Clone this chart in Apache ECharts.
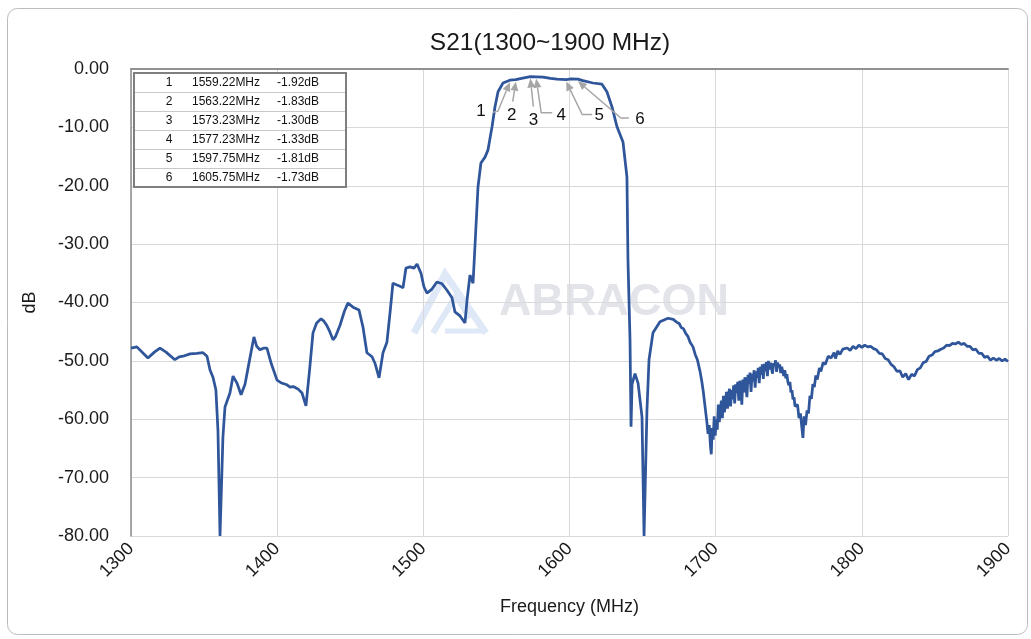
<!DOCTYPE html>
<html>
<head>
<meta charset="utf-8">
<script src="https://cdn.jsdelivr.net/npm/echarts@6/dist/echarts.min.js"></script>
<style>
html,body{margin:0;padding:0;background:#fff;}
#c{width:1031px;height:639px;}
</style>
</head>
<body>
<div id="c"></div>
<script>
// ---------------- DATA ----------------
const xTickValues = [1300, 1400, 1500, 1600, 1700, 1800, 1900];
const yTickValues = [0, -10, -20, -30, -40, -50, -60, -70, -80];

// S21 trace, [frequency MHz, dB]
const lowerStopband = [
  [1300,-47.8],[1304,-47.6],[1308,-48.6],[1311.6,-49.5],[1316,-48.5],[1319.8,-47.8],[1324,-48.5],
  [1330,-49.8],[1333,-49.3],[1335.6,-49.2],[1340.4,-48.8],[1345,-48.7],[1349.3,-48.6],[1352,-49.2],
  [1354.1,-51.6],[1356.1,-52.8],[1358.1,-55],[1359.5,-62],[1360.9,-80],[1362.9,-63],[1364.3,-57.9],
  [1367.7,-55.5],[1369.8,-52.6],[1372.5,-53.8],[1375.3,-55.8],[1378,-54],[1381,-50],[1384.1,-45.9],
  [1386,-47.5],[1388.2,-48.1],[1391,-47.8],[1393,-47.8],[1396,-50.5],[1399.9,-53.3],[1403,-53.8],
  [1406.7,-54.1],[1408.8,-54.5],[1411,-54.4],[1414.2,-54.8],[1417,-55.5],[1419.7,-57.7],[1422,-52],
  [1424.5,-45.2],[1427,-43.5],[1430,-42.8],[1432,-43.2],[1434.1,-44],[1436,-45],[1438.2,-46.4],
  [1440,-45.8],[1443,-43.9],[1446,-41.5],[1448.4,-40.1],[1451.9,-40.8],[1456,-41.3],[1458.7,-44.2],
  [1461.4,-48.6],[1464.9,-49.3],[1466.9,-50.4],[1469.7,-52.9],[1472.4,-48.6],[1475.1,-46.8],
  [1477.2,-41.8],[1479.2,-36.7],[1482,-37],[1484,-37.2],[1486.1,-37.5],[1488.1,-34.1],[1490.9,-33.9],
  [1493.6,-34.1],[1495.7,-33.4],[1498.4,-35],[1500.4,-37.3],[1502.5,-38.4],[1505.9,-37.7],
  [1509.3,-36.5],[1512.8,-36.8],[1516.2,-37.9],[1519.6,-39.2],[1521.6,-41.6],[1525.1,-42.3],
  [1528.5,-43.5],[1529.9,-39.6],[1531.9,-35.3],[1534,-36.7]
];
const passband = [
  [1535.3,-30.5],[1537.4,-20.2],[1539.4,-16.1],[1542.2,-15.1],[1544.2,-13.9],[1547,-9.9],[1549,-6.5],
  [1551.1,-3.9],[1554.5,-2.4],[1559.22,-1.92],[1563.22,-1.83],[1568,-1.55],[1573.23,-1.3],
  [1577.23,-1.33],[1582,-1.4],[1587,-1.6],[1591.4,-1.75],[1597.75,-1.81],[1601,-1.7],[1605.75,-1.73],
  [1609.2,-2],[1616,-2.4],[1622.2,-2.6],[1625.6,-3.9],[1629.1,-6.5],[1632.5,-9.9],[1636.6,-12.5],
  [1639.3,-18.5],[1640,-32.7]
];
const upperStopband = [
  [1641.4,-46.4],[1642.1,-61.3],[1642.8,-54],[1644.8,-52.2],[1646.9,-53.8],[1649.6,-59.6],[1651,-80],
  [1653,-58.4],[1654.4,-49.8],[1657.1,-45.2],[1661.9,-43.3],[1667.4,-42.7],[1671,-42.9],[1673.5,-43.4],
  [1675,-43.6],[1676.5,-44.3],[1678,-44.5],[1679.5,-45.3],[1681,-45.8],[1682.5,-46.8],[1684.5,-47.6],
  [1686,-48.9],[1687.5,-49.8],[1689.3,-51.8],[1690.5,-53.5],[1691.5,-55.2],[1693,-58.4]
];
const noisyRegion = [
  [1694,-60.5],[1694.8,-62.5],[1695.6,-61],[1696.4,-64.5],[1697,-66],[1697.6,-61.5],[1698.3,-63.5],
  [1699,-59.5],[1699.7,-62.8],[1700.4,-60],[1701.1,-61.8],[1701.8,-57.5],[1702.5,-60.5],[1703.2,-58.5],
  [1703.9,-56.8],[1704.6,-59.8],[1705.3,-56],[1706,-58.8],[1706.7,-57.2],[1707.4,-55.3],[1708.1,-58.2],
  [1708.8,-55.6],[1709.5,-54.8],[1710.2,-57.8],[1710.9,-55],[1711.6,-56.6],[1712.3,-54.2],[1713,-57.3],
  [1713.7,-54],[1714.4,-55.5],[1715.1,-53.6],[1715.8,-56.8],[1716.5,-53.4],[1717.2,-54.6],[1717.9,-57.5],
  [1718.6,-53.2],[1719.3,-55.4],[1720,-52.8],[1720.7,-54.5],[1721.4,-56.2],[1722.1,-52.4],[1722.8,-54],
  [1723.5,-52],[1724.2,-55.3],[1724.9,-52.2],[1725.6,-53.5],[1726.3,-51.6],[1727,-54.6],[1727.7,-51.8],
  [1728.4,-52.9],[1729.1,-51.2],[1729.8,-53.8],[1730.5,-51],[1731.2,-52.4],[1731.9,-50.6],[1732.6,-53.1],
  [1733.3,-50.5],[1734,-51.8],[1734.7,-50.2],[1735.4,-52.6],[1736.1,-50],[1736.8,-51.5],[1737.5,-50.3],
  [1738.2,-50.1],[1738.9,-52.2],[1739.6,-50.4],[1740.3,-50.8],[1741,-49.9],[1741.7,-51.9],[1742.4,-50.3],
  [1743.1,-51.1],[1743.8,-50.6],[1744.5,-52.1],[1745.2,-51],[1745.9,-51.8],[1746.6,-52.6],[1747.3,-51.6],
  [1748,-53],[1748.7,-52.3],[1749.4,-53.6],[1750.1,-54.2],[1750.8,-53.6],[1751.5,-55.4],[1752.2,-55],
  [1752.9,-56.6],[1753.6,-56.2],[1754.3,-57.8],[1755,-58],[1756,-57.5],[1757,-59.8],[1758,-59],
  [1759,-61.5],[1759.7,-63.2],[1760.5,-59.5],[1761.5,-61],[1762.5,-58.5],[1763.5,-59],[1764.5,-56],
  [1765.5,-56.5],[1766.5,-54],[1767.5,-54.5],[1768.5,-52.5],[1769.5,-53.2],[1771,-51.2],[1772,-51.8],
  [1773.5,-50.3],[1775,-50.6],[1777,-49.2],[1779,-49.5],[1781,-48.6],[1782,-49.6],[1783.5,-48.3],
  [1785,-48.9],[1787,-48]
];
const highBand = [
  [1790,-47.8],[1792,-48.2],[1794,-47.5],[1796,-47.9],[1798,-47.3],[1800,-47.7],[1802,-47.3],
  [1804,-47.6],[1806,-47.5],[1808,-47.9],[1810,-48.1],[1812,-48.7],[1814,-48.8],[1816,-49.6],
  [1818,-49.8],[1820,-50.6],[1822,-51],[1824,-51.8],[1826,-51.7],[1828,-52.8],[1830,-52.2],
  [1832,-53.2],[1834,-52.3],[1836,-52.6],[1838,-51.5],[1840,-51.2],[1842,-50.3],[1844,-50.1],
  [1846,-49.2],[1848,-49],[1850,-48.4],[1852,-48.3],[1854,-48],[1856,-47.8],[1858,-47.3],[1860,-47.4],
  [1862,-47],[1864,-47.1],[1866,-46.8],[1868,-47.2],[1870,-47],[1872,-47.5],[1874,-47.5],[1876,-48.1],
  [1878,-48],[1880,-48.7],[1882,-48.7],[1884,-49.4],[1886,-49.2],[1888,-49.9],[1890,-49.5],
  [1892,-49.9],[1894,-49.6],[1896,-50],[1898,-49.7],[1900,-50.1]
];

// Markers
const markerIds = ['1', '2', '3', '4', '5', '6'];
const markerFreq = [1559.22, 1563.22, 1573.23, 1577.23, 1597.75, 1605.75];
const markerDb = [-1.92, -1.83, -1.30, -1.33, -1.81, -1.73];

// ---------------- STYLE ----------------
const FONT = '"Liberation Sans", Arial, sans-serif';
const LINE_COLOR = '#2f559a';
const LEADER = '#a6a6a6';
// leader geometry relative to the arrow tip (pixels)
const leaderStyle = [
  {label: [-29, 29], path: [[-17, 30], [-12, 29]]},
  {label: [-4, 34],  path: [[-3, 20]]},
  {label: [3, 42],   path: [[3, 28]]},
  {label: [25, 37],  path: [[16, 34], [5, 34]]},
  {label: [33, 34],  path: [[26, 33], [16, 33]]},
  {label: [62, 38],  path: [[51, 37], [43, 37]]}
];
const table = {x: 134, y: 73, w: 212, rowH: 19, colNo: 169, colF: 192, colDb: 277};

const trace = [].concat(lowerStopband, passband, upperStopband, noisyRegion, highBand);

function buildTable() {
  const ch = [];
  ch.push({type: 'rect', shape: {x: table.x, y: table.y, width: table.w, height: table.rowH * markerIds.length},
    style: {fill: '#fff', stroke: '#7f7f7f', lineWidth: 2}, z: 100});
  for (let k = 1; k < markerIds.length; k++) {
    const yy = table.y + k * table.rowH + 0.5;
    ch.push({type: 'line', shape: {x1: table.x + 1, y1: yy, x2: table.x + table.w - 1, y2: yy},
      style: {stroke: '#c8c8c8', lineWidth: 1}, z: 101});
  }
  for (let i = 0; i < markerIds.length; i++) {
    const cy = table.y + i * table.rowH + table.rowH / 2 + 0.5;
    const st = {fontSize: 12, fill: '#111', fontFamily: FONT, verticalAlign: 'middle'};
    ch.push({type: 'text', x: table.colNo, y: cy, z: 102, style: Object.assign({text: markerIds[i], align: 'center'}, st)});
    ch.push({type: 'text', x: table.colF, y: cy, z: 102, style: Object.assign({text: markerFreq[i].toFixed(2) + 'MHz', align: 'left'}, st)});
    ch.push({type: 'text', x: table.colDb, y: cy, z: 102, style: Object.assign({text: markerDb[i].toFixed(2) + 'dB', align: 'left'}, st)});
  }
  return ch;
}

const chart = echarts.init(document.getElementById('c'), null, {renderer: 'canvas'});
const option = {
  backgroundColor: '#fff',
  animation: false,
  title: {
    text: 'S21(1300~1900 MHz)',
    left: 545, top: 26, textAlign: 'center',
    textStyle: {fontSize: 24.5, fontWeight: 'normal', color: '#1a1a1a', fontFamily: FONT}
  },
  grid: {left: 131, right: 23, top: 69, bottom: 103, containLabel: false},
  xAxis: [{
    type: 'value', min: 1300, max: 1900, interval: 100,
    name: 'Frequency (MHz)', nameLocation: 'middle', nameGap: 62,
    nameTextStyle: {fontSize: 18, color: '#1a1a1a', fontFamily: FONT},
    axisLine: {show: true, lineStyle: {color: '#8c8c8c', width: 1.5}},
    axisTick: {show: false},
    axisLabel: {rotate: 45, margin: 10, fontSize: 18, color: '#1a1a1a', fontFamily: FONT,
      customValues: xTickValues, formatter: v => String(v)},
    splitLine: {show: true, lineStyle: {color: '#d9d9d9', width: 1}}
  }, {
    type: 'value', min: 1300, max: 1900, position: 'top',
    axisLine: {show: true, onZero: false, lineStyle: {color: '#8c8c8c', width: 1.5}},
    axisTick: {show: false}, axisLabel: {show: false}, splitLine: {show: false}
  }],
  yAxis: {
    type: 'value', min: -80, max: 0, interval: 10,
    name: 'dB', nameLocation: 'middle', nameGap: 92, nameRotate: 90,
    nameTextStyle: {fontSize: 18, color: '#1a1a1a', fontFamily: FONT},
    axisLine: {show: true, lineStyle: {color: '#8c8c8c', width: 1.5}},
    axisTick: {show: false},
    axisLabel: {margin: 22, fontSize: 18, color: '#1a1a1a', fontFamily: FONT,
      customValues: yTickValues,
      formatter: v => (Math.abs(v) < 1e-9 ? 0 : v).toFixed(2)},
    splitLine: {show: true, lineStyle: {color: '#d9d9d9', width: 1}}
  },
  graphic: {elements: [
    {type: 'rect', shape: {x: 7.5, y: 8.5, width: 1020, height: 626, r: 10},
      style: {fill: 'none', stroke: '#bcbcbc', lineWidth: 1}, z: -10, silent: true},
    {type: 'group', z: 1, silent: true, children: [
      {type: 'polyline', shape: {points: [[414, 333], [445, 274], [486, 333]]},
        style: {stroke: '#dfe8f6', lineWidth: 7, fill: null, lineJoin: 'miter'}},
      {type: 'polyline', shape: {points: [[433, 333], [456, 296], [470, 318]]},
        style: {stroke: '#dfe8f6', lineWidth: 6, fill: null}},
      {type: 'line', shape: {x1: 445, y1: 331, x2: 486, y2: 331},
        style: {stroke: '#dfe8f6', lineWidth: 5}},
      {type: 'text', x: 499, y: 303, style: {text: 'ABRACON', fontSize: 45, fontWeight: 'bold',
        fill: '#e2e4ea', fontFamily: FONT, verticalAlign: 'middle', align: 'left'}}
    ]},
    {type: 'group', z: 100, children: buildTable()}
  ]},
  series: [{
    type: 'line', name: 'S21', xAxisIndex: 0, data: trace,
    showSymbol: false, symbol: 'none', smooth: false, z: 5,
    lineStyle: {color: LINE_COLOR, width: 2.75}
  }, {
    type: 'custom', name: 'markers', xAxisIndex: 0, clip: false, z: 6,
    data: markerFreq.map((f, i) => [f, markerDb[i]]),
    renderItem: function (params, api) {
      const i = params.dataIndex;
      const tip = api.coord([api.value(0), api.value(1)]);
      const L = leaderStyle[i];
      const tx = tip[0], ty = tip[1] + 2;
      const pts = L.path.map(p => [tx + p[0], ty + p[1]]);
      const prev = pts[pts.length - 1];
      const dx = tx - prev[0], dy = ty - prev[1];
      const len = Math.hypot(dx, dy);
      const ux = dx / len, uy = dy / len;
      const bx = tx - ux * 9, by = ty - uy * 9;
      pts.push([bx, by]);
      const head = [[tx, ty], [bx - uy * 4, by + ux * 4], [bx + uy * 4, by - ux * 4]];
      return {type: 'group', children: [
        {type: 'polyline', shape: {points: pts}, style: {stroke: LEADER, lineWidth: 1.5, fill: null}},
        {type: 'polygon', shape: {points: head}, style: {fill: LEADER}},
        {type: 'text', x: tx + L.label[0], y: ty + L.label[1],
          style: {text: markerIds[i], fontSize: 17, fill: '#111', fontFamily: FONT, align: 'center', verticalAlign: 'middle'}}
      ]};
    }
  }]
};
chart.setOption(option);
</script>
</body>
</html>
